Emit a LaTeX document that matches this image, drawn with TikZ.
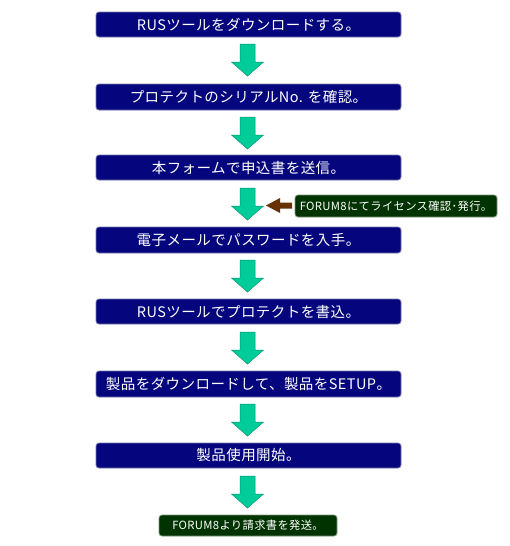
\documentclass[tikz,border=0pt]{standalone}
\usepackage{fontspec}
\setmainfont{Noto Sans CJK JP}
\begin{document}
\begin{tikzpicture}[x=1pt,y=-1pt,
  navy/.style={fill={rgb,255:red,5;green,5;blue,125}, draw={rgb,255:red,120;green,120;blue,170}, line width=0.8pt, rounded corners=3pt},
  dkgreen/.style={fill={rgb,255:red,0;green,51;blue,0}, draw={rgb,255:red,130;green,150;blue,130}, line width=0.8pt, rounded corners=3pt},
  boxtext/.style={text=white, font=\fontsize{14.5}{15}\selectfont\addfontfeature{LetterSpace=3}},
  smalltext/.style={text=white, font=\fontsize{11.3}{12}\selectfont\addfontfeature{LetterSpace=3}},
  garrow/.style={fill={rgb,255:red,0;green,204;blue,153}, draw={rgb,255:red,0;green,150;blue,110}, line width=0.5pt},
  barrow/.style={fill={rgb,255:red,102;green,51;blue,0}, draw=none}]
\useasboundingbox (0,0) rectangle (510,546);
\fill[white] (0,0) rectangle (510,546);

% navy boxes
\foreach \t/\b/\n in {12/37/b1, 84/110/b2, 155/180/b3, 227/253/b4, 299/324/b5, 371/397/b6, 443/468/b7}{
  \draw[navy] (96,\t) rectangle (401,\b);
  \coordinate (\n) at (248.5,{(\t+\b)/2});
}
\node[boxtext] (t1) at (b1) {RUSツールをダウンロードする。};
\node[boxtext] (t2) at (b2) {プロテクトのシリアルNo. を確認。};
\node[boxtext] (t3) at (b3) {本フォームで申込書を送信。};
\node[boxtext] (t4) at (b4) {電子メールでパスワードを入手。};
\node[boxtext] (t5) at (b5) {RUSツールでプロテクトを書込。};
\node[boxtext] (t6) at (b6) {製品をダウンロードして、製品をSETUP。};
\node[boxtext] (t7) at (b7) {製品使用開始。};

% green arrows
\foreach \t in {44, 117, 188, 260, 332, 404, 476}{
  \draw[garrow] (240,\t) -- (255,\t) -- (255,\t+18) -- (263.5,\t+18) -- (247.5,\t+32) -- (231.5,\t+18) -- (240,\t+18) -- cycle;
}

% side note box
\draw[dkgreen] (295,195) rectangle (497,217);
\coordinate (sb) at (396,206);
\node[smalltext] (st) at (sb) {FORUM8にてライセンス確認･発行。};
% brown arrow
\fill[barrow] (266,205.5) -- (280,198) -- (280,202.5) -- (292,202.5) -- (292,208.5) -- (280,208.5) -- (280,213) -- cycle;

% bottom box
\draw[dkgreen] (159,515) rectangle (337,536);
\coordinate (bb) at (248,525.5);
\node[smalltext] (bt) at (bb) {FORUM8より請求書を発送。};
\end{tikzpicture}
\end{document}
